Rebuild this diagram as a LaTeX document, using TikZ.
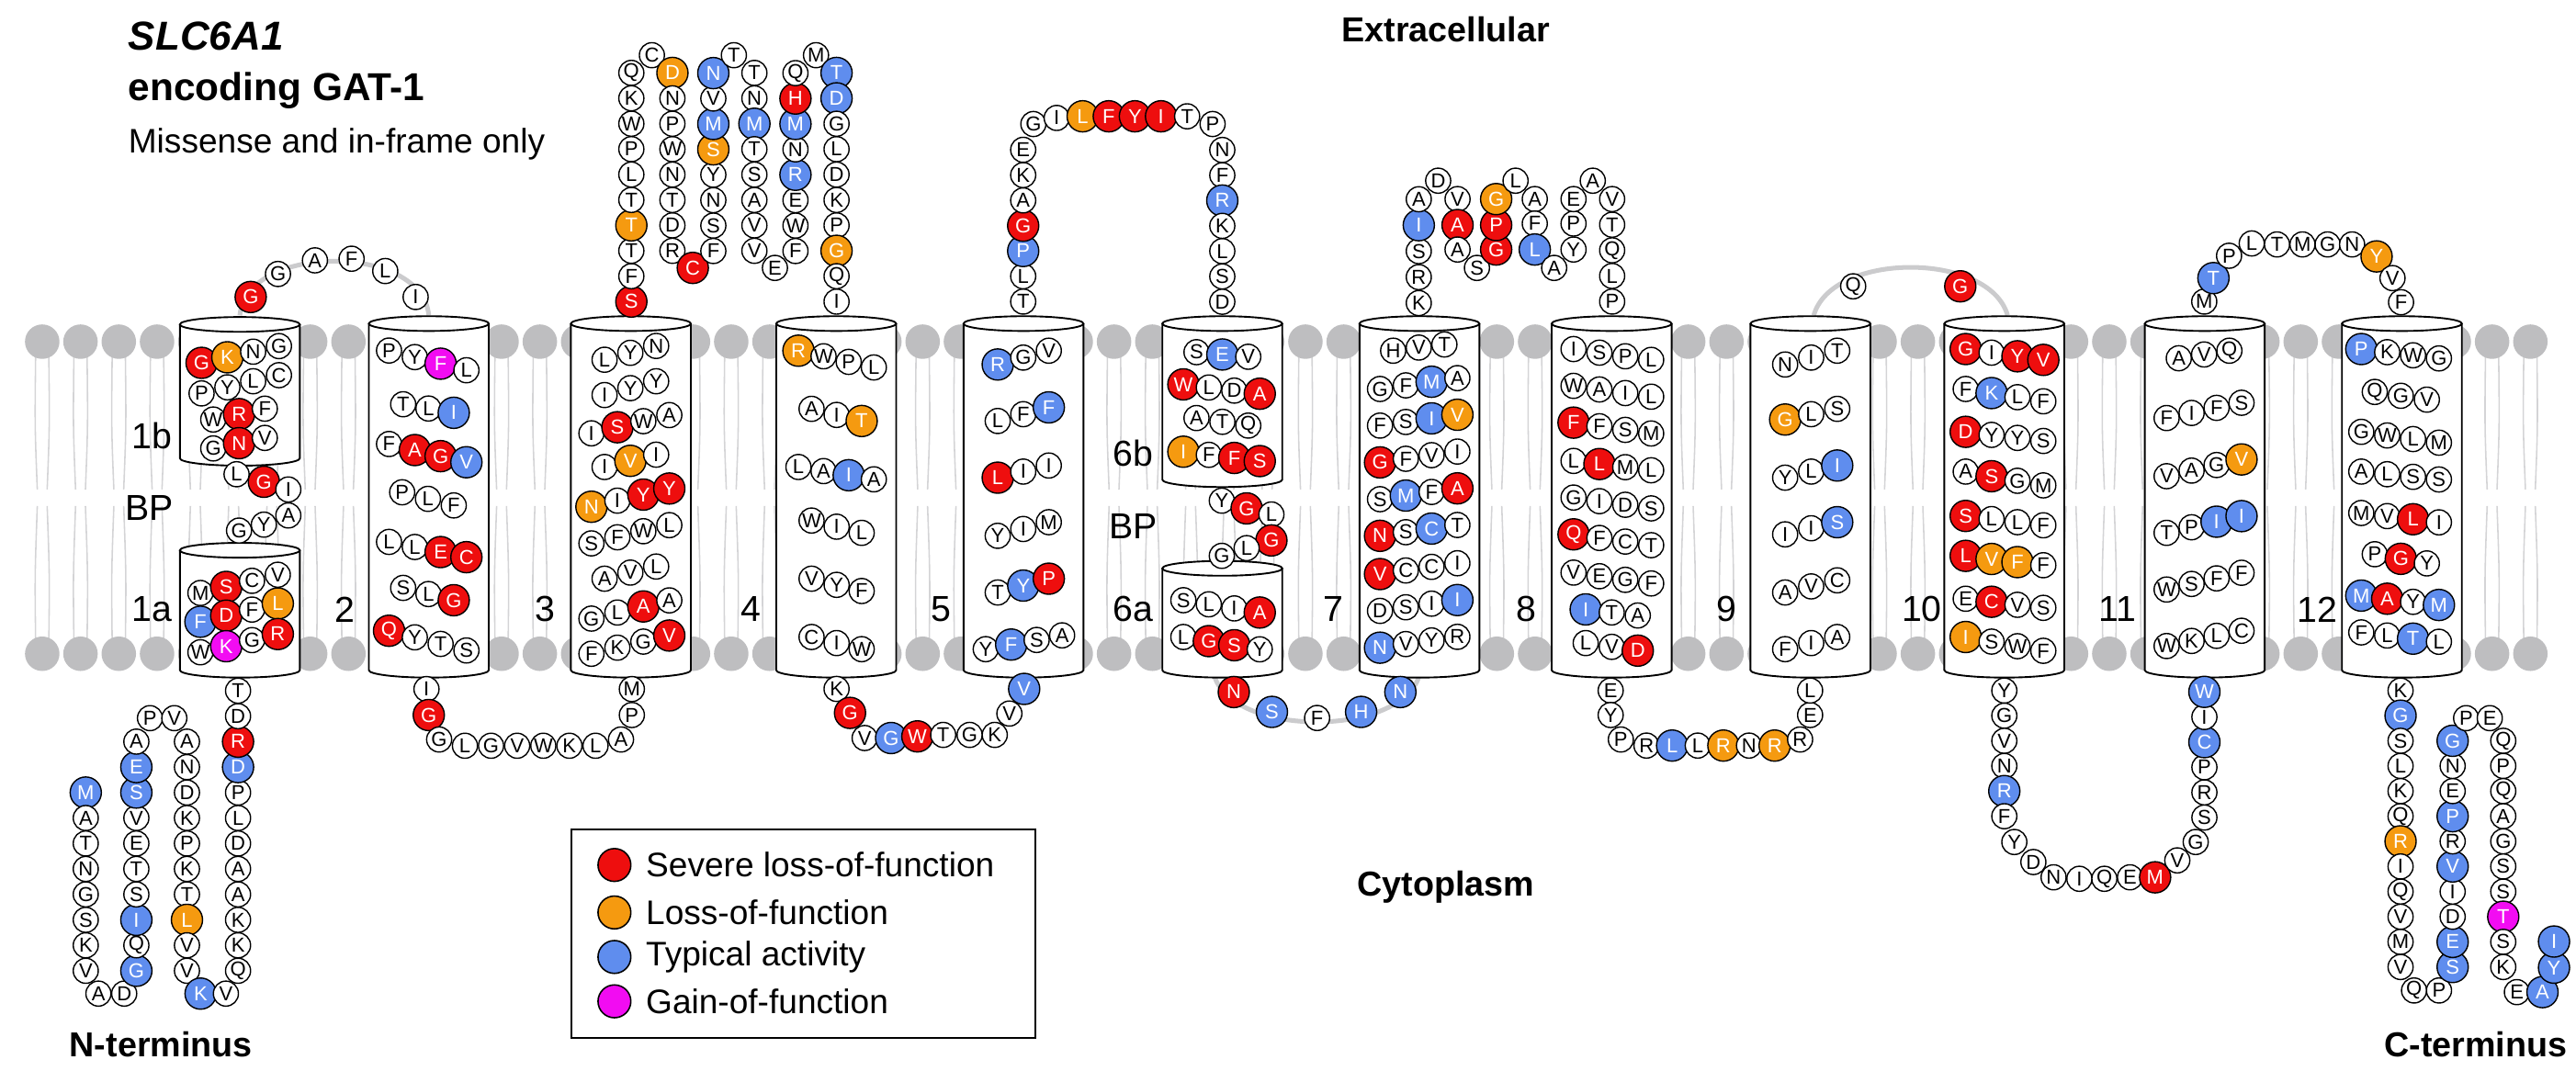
\documentclass[tikz,border=0pt]{standalone}
\usepackage{fontspec}
\setmainfont{Liberation Sans}
\definecolor{sev}{HTML}{EE0E0E}
\definecolor{lof}{HTML}{F59A10}
\definecolor{typ}{HTML}{5F8DEE}
\definecolor{gof}{HTML}{F20CF2}
\definecolor{lip}{HTML}{BEBEC0}
\definecolor{tailc}{HTML}{D4D4D6}
\tikzset{
 res/.style={circle,draw=black,line width=0.45pt,inner sep=0pt,font=\fontsize{7}{8}\selectfont},
 w/.style={res,fill=white,minimum size=0.305cm},
 c/.style={res,minimum size=0.38cm,text=white},
 r/.style={c,fill=sev},
 o/.style={c,fill=lof},
 b/.style={c,fill=typ},
 m/.style={c,fill=gof},
 cyl/.style={draw=black,fill=white,line width=0.6pt},
 lab/.style={font=\fontsize{12.5}{14}\selectfont},
 big/.style={font=\bfseries\fontsize{12}{14}\selectfont},
 gline/.style={draw=lip!80,line width=1.6pt},
}
\newcommand\Ch[5]{\foreach \l/\s [count=\i from 0] in {#5} {\node[\s] at ({#1+\i*(#3)},{#2+\i*(#4)}) {\l};}}
\newcommand\Rs[4]{\node[#4] at (#1,#2) {#3};}
\newcommand\Cyl[3]{\draw[cyl] (#1-36.5,#2) -- (#1-36.5,#3) arc[start angle=180,end angle=0,x radius=36.5,y radius=4.5] -- (#1+36.5,#2);
 \draw[cyl] (#1,#2) ellipse [x radius=36.5,y radius=4.5];}
\begin{document}
\begin{tikzpicture}[x=0.02cm,y=-0.02cm]
\useasboundingbox (0,0) rectangle (1568,651.5);
% membrane
\foreach \i in {0,...,65}{
 \pgfmathsetmacro\xx{25.7+\i*23.3}
 \draw[tailc,line width=0.5pt] (\xx-4,215) .. controls (\xx-4.5,260) .. (\xx-3,298);
 \draw[tailc,line width=0.5pt] (\xx+4,215) .. controls (\xx+4.5,260) .. (\xx+3,298);
 \draw[tailc,line width=0.5pt] (\xx-3,308) .. controls (\xx-4.5,350) .. (\xx-4,392);
 \draw[tailc,line width=0.5pt] (\xx+3,308) .. controls (\xx+4.5,350) .. (\xx+4,392);
 \fill[lip] (\xx,208) circle [radius=0.21cm];
 \fill[lip] (\xx,398) circle [radius=0.21cm];
}
% grey connector arcs
\draw[gline] (146,192) .. controls (150,148) and (257,148) .. (261,192);
\draw[gline] (1104,192) .. controls (1115,153) and (1211,153) .. (1222,192);
\draw[gline] (739,411) .. controls (750,449) and (853,449) .. (864,411);
% cylinders
\Cyl{146}{197.5}{279}
\Cyl{146}{335}{408}
\Cyl{744}{197}{292}
\Cyl{744}{346}{408}
\foreach \cx in {261,384,509,623,864,981,1102,1220,1342,1462}{\Cyl{\cx}{197}{408}}
% helix labels
\node[lab] at (92.7,265.5) {1b};
\node[lab] at (91,309.4) {BP};
\node[lab] at (92.7,371) {1a};
\node[lab] at (209.7,371) {2};
\node[lab] at (332,371) {3};
\node[lab] at (457,371) {4};
\node[lab] at (572.6,371) {5};
\node[lab] at (689.8,275.9) {6b};
\node[lab] at (689.8,320.6) {BP};
\node[lab] at (689.8,371) {6a};
\node[lab] at (811.8,371) {7};
\node[lab] at (929,371) {8};
\node[lab] at (1051.2,371) {9};
\node[lab] at (1169.8,371) {10};
\node[lab] at (1289.1,371) {11};
\node[lab] at (1410.5,371) {12};
% titles
\node[anchor=west,font=\bfseries\itshape\fontsize{14}{16}\selectfont] at (72,22) {SLC6A1};
\node[anchor=west,font=\bfseries\fontsize{13.5}{16}\selectfont] at (72,55) {encoding GAT-1};
\node[anchor=west,font=\fontsize{11.8}{14}\selectfont] at (72,88) {Missense and in-frame only};
\node[big] at (880,18) {Extracellular};
\node[big] at (880,540) {Cytoplasm};
\node[big] at (98,636) {N-terminus};
\node[big] at (1507,636) {C-terminus};
% legend
\draw[line width=0.6pt] (348,505) rectangle (630,632);
\foreach \y/\cc/\t in {526.6/sev/Severe loss-of-function,555.5/lof/Loss-of-function,582.6/typ/Typical activity,609.6/gof/Gain-of-function}{
 \node[circle,draw=black,line width=0.5pt,fill=\cc,minimum size=0.4cm,inner sep=0pt] at (374,\y) {};
 \node[anchor=west,font=\fontsize{11.8}{13}\selectfont] at (387,\y) {\t};
}
% ---- helix 1b
\Ch{122.7}{220.9}{15.7}{-3.4}{G/r,K/o,N/w,G/w}
\Ch{122.7}{239.5}{15.7}{-3.7}{P/w,Y/w,L/w,C/w}
\Ch{129.8}{255.4}{15.7}{-3.3}{W/w,R/r,F/w}
\Ch{129.8}{273}{15.7}{-3.2}{G/w,N/r,V/w}
\Rs{144}{288.7}{L}{w}\Rs{160.6}{293.3}{G}{r}\Rs{175.5}{298}{I}{w}
\Rs{175.5}{313.8}{A}{w}\Rs{160.6}{319.4}{Y}{w}\Rs{145.5}{323}{G}{w}
% helix 1a
\Ch{122}{361}{15.7}{-3.7}{M/w,S/r,C/w,V/w}
\Ch{122}{378.5}{15.7}{-3.7}{F/b,D/r,F/w,L/o}
\Ch{122}{397.1}{15.7}{-3.7}{W/w,K/m,G/w,R/r}
% helix 2
\Ch{236.8}{213.4}{15.7}{4}{P/w,Y/w,F/m,L/w}
\Ch{245.4}{246.1}{15.4}{2.6}{T/w,L/w,I/b}
\Ch{236.8}{270.3}{15.7}{3.7}{F/w,A/r,G/r,V/b}
\Ch{244.8}{299.7}{15.7}{4}{P/w,L/w,F/w}
\Ch{236.8}{329.9}{15.7}{3.1}{L/w,L/w,E/r,C/r}
\Ch{245.4}{357.9}{15.4}{3.75}{S/w,L/w,G/r}
\Ch{236.8}{384}{15.7}{4}{Q/r,Y/w,T/w,S/w}
% helix 3
\Ch{368}{219}{15.7}{-4.2}{L/w,Y/w,N/w}
\Ch{368}{240.5}{15.7}{-4.2}{I/w,Y/w,Y/w}
\Ch{360}{263.8}{15.8}{-3.7}{I/w,S/r,W/w,A/w}
\Ch{368}{284.3}{15.7}{-3.75}{I/w,V/o,I/w}
\Ch{360}{308.5}{15.8}{-3.7}{N/o,I/w,Y/r,Y/r}
\Ch{360}{330.8}{15.8}{-3.7}{S/w,F/w,W/w,L/w}
\Ch{368}{352.3}{15.7}{-3.7}{A/w,V/w,L/w}
\Ch{360}{376.6}{15.8}{-3.7}{G/w,L/w,A/r,A/w}
\Ch{360}{398}{15.8}{-3.7}{F/w,K/w,G/w,V/r}
% helix 4
\Ch{486}{213.5}{15.3}{3.4}{R/o,W/w,P/w,L/w}
\Ch{494}{248.9}{15.25}{3.7}{A/w,I/w,T/o}
\Ch{486}{284.3}{15.3}{2.5}{L/w,A/w,I/b,A/w}
\Ch{494}{316.9}{15.25}{3.75}{W/w,I/w,L/w}
\Ch{494}{352.3}{15.25}{3.75}{V/w,Y/w,F/w}
\Ch{494}{387.8}{15.25}{3.7}{C/w,I/w,W/w}
% helix 5
\Ch{607.3}{221.9}{15.55}{-4.2}{R/b,G/w,V/w}
\Ch{607.3}{256.3}{15.55}{-4.15}{L/w,F/w,F/b}
\Ch{607.3}{290.8}{15.55}{-3.7}{L/r,I/w,I/w}
\Ch{607.3}{326.2}{15.55}{-4.15}{Y/w,I/w,M/w}
\Ch{607.3}{360.7}{15.55}{-4.2}{T/w,Y/b,P/r}
\Ch{600}{395.2}{15.5}{-2.8}{Y/w,F/b,S/w,A/w}
% helix 6b
\Ch{728.3}{214.4}{15.75}{1.4}{S/w,E/b,V/w}
\Ch{720.3}{234}{15.5}{1.9}{W/r,L/w,D/w,A/r}
\Ch{728.3}{254.5}{15.75}{2.3}{A/w,T/w,Q/w}
\Ch{720.3}{275}{15.5}{1.9}{I/o,F/w,F/r,S/r}
\Rs{743.7}{304.8}{Y}{w}\Rs{758.8}{309.5}{G}{r}\Rs{773.9}{313.2}{L}{w}
\Rs{773.9}{329}{G}{r}\Rs{758.8}{333.7}{L}{w}\Rs{743.7}{338.4}{G}{w}
% helix 6a
\Ch{720.3}{365.4}{15.5}{2.5}{S/w,L/w,I/w,A/r}
\Ch{720.3}{387.8}{15.5}{2.5}{L/w,G/r,S/r,Y/w}
% helix 7
\Ch{848}{213.5}{15.6}{-1.9}{H/w,V/w,T/w}
\Ch{840}{236.8}{15.7}{-2.2}{G/w,F/w,M/b,A/w}
\Ch{840}{259.1}{15.7}{-2.2}{F/w,S/w,I/b,V/o}
\Ch{840}{281.5}{15.7}{-2.2}{G/r,F/w,V/w,I/w}
\Ch{840}{303.9}{15.7}{-2.2}{S/w,M/b,F/w,A/r}
\Ch{840}{326.2}{15.7}{-2.2}{N/r,S/w,C/b,T/w}
\Ch{840}{349.5}{15.7}{-2.2}{V/r,C/w,C/w,I/w}
\Ch{840}{371.9}{15.7}{-2.2}{D/w,S/w,I/w,I/b}
\Ch{840}{394.3}{15.7}{-2.2}{N/b,V/w,Y/w,R/w}
% helix 8
\Ch{957.8}{212.5}{15.75}{2.2}{I/w,S/w,P/w,L/w}
\Ch{957.8}{234.9}{15.75}{2.2}{W/w,A/w,I/w,L/w}
\Ch{957.8}{257.3}{15.75}{2.2}{F/r,F/w,S/w,M/w}
\Ch{957.8}{280.6}{15.75}{1.9}{L/w,L/r,M/w,L/w}
\Ch{957.8}{302.9}{15.75}{2.2}{G/w,I/w,D/w,S/w}
\Ch{957.8}{325.3}{15.75}{2.2}{Q/r,F/w,C/w,T/w}
\Ch{957.8}{348.6}{15.75}{2.2}{V/w,E/w,G/w,F/w}
\Ch{965.2}{371}{15.85}{1.85}{I/b,T/w,A/w}
\Ch{965.2}{391.5}{15.85}{2.3}{L/w,V/w,D/r}
% helix 9
\Ch{1086.6}{221.9}{15.85}{-4.2}{N/w,I/w,T/w}
\Ch{1086.6}{255.4}{15.85}{-3.25}{G/o,L/w,S/w}
\Ch{1086.6}{290.8}{15.85}{-3.7}{Y/w,L/w,I/b}
\Ch{1086.6}{325.3}{15.85}{-3.7}{I/w,I/w,S/b}
\Ch{1086.6}{360.7}{15.85}{-3.7}{A/w,V/w,C/w}
\Ch{1086.6}{395.2}{15.85}{-3.7}{F/w,I/w,A/w}
% helix 10
\Ch{1196.5}{212.5}{15.75}{2.2}{G/r,I/w,Y/r,V/r}
\Ch{1196.5}{236.8}{15.75}{2.5}{F/w,K/b,L/w,F/w}
\Ch{1196.5}{262.9}{15.75}{1.85}{D/r,Y/w,Y/w,S/w}
\Ch{1196.5}{287.1}{15.75}{2.8}{A/w,S/r,G/w,M/w}
\Ch{1196.5}{314.1}{15.75}{1.9}{S/r,L/w,L/w,F/w}
\Ch{1196.5}{338.4}{15.75}{1.9}{L/r,V/o,F/o,F/w}
\Ch{1196.5}{364.5}{15.75}{1.85}{E/w,C/r,V/w,S/w}
\Ch{1196.5}{387.8}{15.75}{2.8}{I/o,S/w,W/w,F/w}
% helix 11
\Ch{1326.2}{218.1}{15.4}{-2.3}{A/w,V/w,Q/w}
\Ch{1318.8}{254.5}{15.2}{-3.1}{F/w,I/w,F/w,S/w}
\Ch{1318.8}{289.9}{15.2}{-3.4}{V/w,A/w,G/w,V/o}
\Ch{1318.8}{324.4}{15.2}{-3.4}{T/w,P/w,I/b,I/b}
\Ch{1318.8}{358.9}{15.2}{-3.4}{W/w,S/w,F/w,F/w}
\Ch{1318.8}{393.3}{15.2}{-3.1}{W/w,K/w,L/w,C/w}
% helix 12
\Ch{1437.3}{212.5}{15.75}{1.9}{P/b,K/w,W/w,G/w}
\Ch{1445.5}{238.6}{15.85}{2.35}{Q/w,G/w,V/w}
\Ch{1437.3}{262.9}{15.75}{2.2}{G/w,W/w,L/w,M/w}
\Ch{1437.3}{287.1}{15.75}{1.6}{A/w,L/w,S/w,S/w}
\Ch{1437.3}{312.3}{15.75}{1.9}{M/w,V/w,L/r,I/w}
\Ch{1445.5}{337.4}{15.85}{2.8}{P/w,G/r,Y/w}
\Ch{1437.3}{362.6}{15.75}{1.9}{M/b,A/r,Y/w,M/b}
\Ch{1437.3}{385}{15.75}{1.9}{F/w,L/w,T/b,L/w}
% ---- EL1
\Rs{152.6}{180.8}{G}{r}\Rs{169.2}{166.8}{G}{w}\Rs{191.7}{158.5}{A}{w}
\Rs{214}{157.5}{F}{w}\Rs{234.5}{165}{L}{w}\Rs{253}{180.8}{I}{w}
% EL2
\Ch{384.3}{183.6}{0}{-15.47}{S/r,F/w,T/w,T/o,T/w,L/w,P/w,W/w,K/w,Q/w}
\Rs{396.8}{33.6}{C}{w}
\Ch{409.3}{44.4}{0}{15.47}{D/o,N/w,P/w,W/w,N/w,T/w,D/w,R/w}
\Rs{421.7}{163.1}{C}{r}
\Ch{434.2}{152.8}{0}{-15.47}{F/w,S/w,N/w,Y/w,S/o,M/b,V/w,N/b}
\Rs{446.7}{33.6}{T}{w}
\Ch{459.2}{44.4}{0}{15.47}{T/w,N/w,M/b,T/w,S/w,A/w,V/w,V/w}
\Rs{471.7}{163.1}{E}{w}
\Ch{484.2}{152.8}{0}{-15.47}{F/w,W/w,E/w,R/b,N/w,M/b,H/r,Q/w}
\Rs{496.7}{33.6}{M}{w}
\Ch{509.2}{44.4}{0}{15.47}{T/b,D/b,G/w,L/w,D/w,K/w,P/w,G/o,Q/w,I/w}
% EL3
\Ch{622.8}{183.6}{0}{-15.4}{T/w,L/w,P/b,G/r,A/w,K/w,E/w}
\Rs{629}{75.5}{G}{w}\Rs{643.2}{71.8}{I}{w}
\Ch{659}{70.8}{15.9}{0}{L/o,F/r,Y/r,I/r,T/w}
\Rs{738.1}{75.5}{P}{w}
\Ch{744}{91.3}{0}{15.4}{N/w,F/w,R/b,K/w,L/w,S/w,D/w}
% EL4
\Ch{863.6}{184.5}{0}{-15.8}{K/w,R/w,S/w,I/b,A/w}
\Rs{875.4}{110}{D}{w}
\Rs{887.2}{121.2}{V}{w}\Rs{887.2}{137}{A}{r}\Rs{887.2}{151.9}{A}{w}
\Rs{899}{163.1}{S}{w}
\Rs{910.7}{151.9}{G}{r}\Rs{910.7}{137}{P}{r}\Rs{910.7}{121.2}{G}{o}
\Rs{922.5}{110}{L}{w}
\Rs{934.2}{121.2}{A}{w}\Rs{934.2}{136.1}{F}{w}\Rs{934.2}{151.9}{L}{b}
\Rs{946}{163.1}{A}{w}
\Rs{957.8}{151.9}{Y}{w}\Rs{957.8}{136.1}{P}{w}\Rs{957.8}{121.2}{E}{w}
\Rs{969.5}{110}{A}{w}
\Ch{981.3}{121.2}{0}{15.6}{V/w,T/w,Q/w,L/w,P/w}
% EL5
\Rs{1128}{174.3}{Q}{w}\Rs{1193.2}{174.3}{G}{r}
% EL6
\Rs{1341.7}{183.6}{M}{w}\Rs{1347.3}{169.3}{T}{b}\Rs{1356.8}{155.7}{P}{w}
\Rs{1370.6}{148.2}{L}{w}\Rs{1386}{148.8}{T}{w}\Rs{1401.5}{148.8}{M}{w}
\Rs{1416.8}{148.8}{G}{w}\Rs{1431.7}{148.8}{N}{w}\Rs{1446.6}{156.1}{Y}{o}
\Rs{1456.3}{169.3}{V}{w}\Rs{1461.5}{184}{F}{w}
% ---- IL1
\Rs{259.6}{419.5}{I}{w}\Rs{261}{435.3}{G}{r}\Rs{267.3}{450.2}{G}{w}
\Ch{283}{454}{15.9}{0}{L/w,G/w,V/w,W/w,K/w,L/w}
\Rs{378}{450.2}{A}{w}\Rs{384.6}{435.3}{P}{w}\Rs{384.6}{419.5}{M}{w}
% IL2
\Rs{509.2}{419.4}{K}{w}\Rs{517.4}{434}{G}{r}\Rs{526.3}{449.3}{V}{w}
\Rs{542.4}{449.3}{G}{b}\Rs{558.4}{448.3}{W}{r}\Rs{574.1}{447.4}{T}{w}
\Rs{590.2}{447.4}{G}{w}\Rs{605.5}{447.4}{K}{w}\Rs{614.4}{434.4}{V}{w}\Rs{623.4}{419.4}{V}{b}
% IL3
\Rs{751}{421.3}{N}{r}\Rs{774.2}{433.4}{S}{b}\Rs{801.7}{437.1}{F}{w}
\Rs{828.5}{433.4}{H}{b}\Rs{852.4}{421.3}{N}{b}
% IL4
\Rs{980.4}{420.4}{E}{w}\Rs{980.4}{435.3}{Y}{w}\Rs{986.6}{450.2}{P}{w}
\Ch{1002.2}{453.9}{15.6}{0}{R/w,L/b,L/w,R/o,N/w,R/o}
\Rs{1095.7}{450.2}{R}{w}\Rs{1101.8}{435.3}{E}{w}\Rs{1101.8}{420.4}{L}{w}
% IL5
\Ch{1220}{420.4}{0}{15.3}{Y/w,G/w,V/w,N/w,R/b,F/w}
\Rs{1226.1}{512.6}{Y}{w}\Rs{1237.7}{524.8}{D}{w}\Rs{1250}{534.1}{N}{w}
\Rs{1265.7}{535}{I}{w}\Rs{1280.9}{535}{Q}{w}\Rs{1296.5}{534.1}{E}{w}
\Rs{1311.8}{534.1}{M}{r}\Rs{1325.3}{523.8}{V}{w}\Rs{1336.5}{512.6}{G}{w}
\Ch{1341.8}{497.7}{0}{-15.3}{S/w,R/w,P/w,C/b,I/w,W/b}
% N-terminus
\Ch{52.2}{482.5}{0}{15.5}{M/b,A/w,T/w,N/w,G/w,S/w,K/w,V/w}
\Rs{59.9}{604.9}{A}{w}\Rs{75.6}{604.9}{D}{w}
\Ch{83}{591}{0}{-15.5}{G/b,Q/w,I/b,S/w,T/w,E/w,V/w,S/b,E/b,A/w}
\Rs{91.3}{437.2}{P}{w}\Rs{106.1}{437.2}{V}{w}
\Ch{113.8}{451.5}{0}{15.5}{A/w,N/w,D/w,K/w,P/w,K/w,T/w,L/o,V/w,V/w}
\Rs{122.1}{604.9}{K}{b}\Rs{137.5}{604.9}{V}{w}
\Ch{144.9}{591}{0}{-15.5}{Q/w,K/w,K/w,A/w,A/w,D/w,L/w,P/w,D/b,R/r,D/w,T/w}
% C-terminus
\Ch{1461.2}{420.4}{0}{15.3}{K/w,G/b,S/w,L/w,K/w,Q/w,R/o,I/w,Q/w,V/w,M/w,V/w}
\Rs{1469.4}{603}{Q}{w}\Rs{1484.6}{603}{P}{w}
\Ch{1492.9}{588.7}{0}{-15.3}{S/b,E/b,D/w,I/w,V/b,R/w,P/b,E/w,N/w,G/b}
\Rs{1501.1}{437.2}{P}{w}\Rs{1515.5}{437.2}{E}{w}
\Ch{1523.7}{451}{0}{15.3}{Q/w,P/w,Q/w,A/w,G/w,S/w,S/w,T/m,S/w,K/w}
\Rs{1532}{604}{E}{w}\Rs{1547.6}{604}{A}{b}\Rs{1554.6}{589.1}{Y}{b}\Rs{1554.6}{573.2}{I}{b}
\end{tikzpicture}
\end{document}
